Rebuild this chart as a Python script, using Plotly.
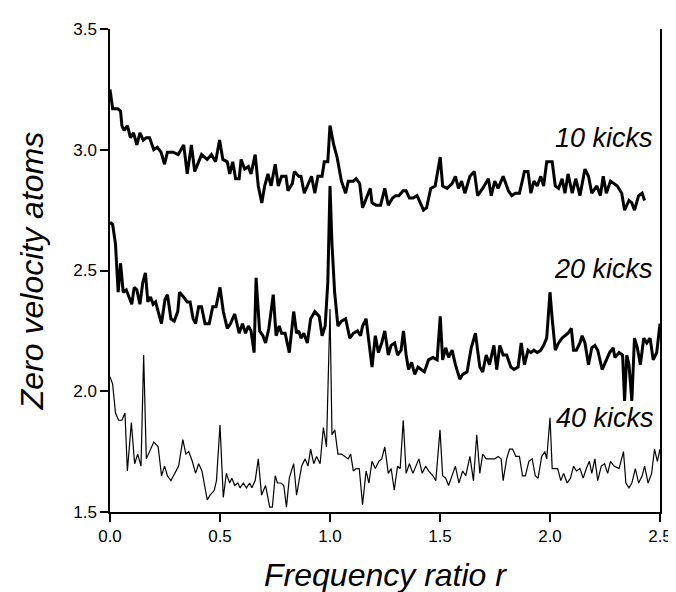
import plotly.graph_objects as go

# ---- data ----
r_10 = [0.000, 0.012, 0.035, 0.048, 0.054, 0.064, 0.079, 0.093, 0.107, 0.122, 0.136, 0.151, 0.165, 0.180, 0.199,
        0.215, 0.232, 0.248, 0.261, 0.287, 0.310, 0.335, 0.351, 0.370, 0.385, 0.416, 0.442, 0.461, 0.480, 0.498,
        0.513, 0.533, 0.544, 0.558, 0.571, 0.587, 0.596, 0.612, 0.629, 0.641, 0.660, 0.674, 0.690, 0.703, 0.718,
        0.732, 0.751, 0.765, 0.780, 0.800, 0.809, 0.829, 0.838, 0.858, 0.868, 0.883, 0.897, 0.916, 0.931, 0.945,
        0.964, 0.974, 0.990, 1.000, 1.017, 1.032, 1.052, 1.071, 1.083, 1.106, 1.119, 1.135, 1.148, 1.168, 1.183,
        1.191, 1.210, 1.230, 1.249, 1.265, 1.284, 1.299, 1.313, 1.332, 1.346, 1.361, 1.377, 1.396, 1.410, 1.425,
        1.439, 1.458, 1.478, 1.501, 1.512, 1.532, 1.555, 1.570, 1.584, 1.598, 1.613, 1.636, 1.656, 1.671, 1.694,
        1.720, 1.733, 1.749, 1.764, 1.787, 1.811, 1.826, 1.842, 1.861, 1.884, 1.900, 1.913, 1.927, 1.942, 1.958,
        1.971, 1.985, 2.010, 2.024, 2.039, 2.055, 2.068, 2.082, 2.101, 2.117, 2.136, 2.159, 2.175, 2.190, 2.213,
        2.229, 2.242, 2.256, 2.275, 2.291, 2.306, 2.326, 2.339, 2.359, 2.372, 2.384, 2.403, 2.419, 2.430]
kicks_10 = [3.25, 3.17, 3.17, 3.16, 3.10, 3.08, 3.10, 3.05, 3.07, 3.02, 3.07, 3.04, 3.05, 3.05, 3.00,
            3.01, 2.99, 2.94, 2.99, 2.99, 2.98, 3.02, 2.90, 3.02, 2.91, 2.98, 2.96, 2.98, 2.95, 3.04,
            2.96, 2.95, 2.90, 2.95, 2.88, 2.88, 2.96, 2.92, 2.93, 2.90, 2.98, 2.85, 2.78, 2.85, 2.90,
            2.85, 2.94, 2.85, 2.89, 2.89, 2.83, 2.86, 2.91, 2.89, 2.89, 2.82, 2.85, 2.89, 2.82, 2.89,
            2.89, 2.95, 2.95, 3.10, 3.02, 2.97, 2.87, 2.82, 2.87, 2.87, 2.88, 2.86, 2.76, 2.81, 2.84,
            2.78, 2.77, 2.77, 2.84, 2.77, 2.80, 2.81, 2.81, 2.83, 2.83, 2.80, 2.80, 2.81, 2.78, 2.75,
            2.76, 2.84, 2.85, 2.97, 2.85, 2.84, 2.86, 2.89, 2.84, 2.87, 2.82, 2.89, 2.91, 2.81, 2.84,
            2.88, 2.81, 2.87, 2.84, 2.89, 2.83, 2.81, 2.82, 2.82, 2.91, 2.91, 2.82, 2.87, 2.85, 2.89,
            2.85, 2.95, 2.95, 2.85, 2.84, 2.88, 2.82, 2.90, 2.82, 2.88, 2.81, 2.92, 2.89, 2.82, 2.85,
            2.81, 2.89, 2.82, 2.87, 2.86, 2.85, 2.82, 2.75, 2.79, 2.78, 2.75, 2.81, 2.82, 2.79]

r_20 = [0.000, 0.012, 0.025, 0.037, 0.048, 0.060, 0.074, 0.087, 0.099, 0.110, 0.122, 0.136, 0.149, 0.161, 0.172,
        0.184, 0.196, 0.207, 0.223, 0.234, 0.250, 0.261, 0.277, 0.292, 0.308, 0.316, 0.335, 0.351, 0.364, 0.378,
        0.389, 0.403, 0.416, 0.432, 0.451, 0.467, 0.482, 0.500, 0.515, 0.533, 0.548, 0.567, 0.587, 0.602, 0.616,
        0.629, 0.641, 0.655, 0.664, 0.680, 0.695, 0.707, 0.722, 0.742, 0.755, 0.769, 0.780, 0.796, 0.815, 0.835,
        0.848, 0.858, 0.868, 0.881, 0.897, 0.912, 0.931, 0.951, 0.964, 0.978, 0.990, 1.000, 1.009, 1.021, 1.036,
        1.052, 1.071, 1.090, 1.106, 1.125, 1.139, 1.148, 1.164, 1.177, 1.191, 1.206, 1.220, 1.235, 1.249, 1.265,
        1.278, 1.294, 1.307, 1.323, 1.334, 1.346, 1.357, 1.371, 1.385, 1.400, 1.416, 1.429, 1.448, 1.468, 1.487,
        1.501, 1.512, 1.526, 1.539, 1.555, 1.570, 1.590, 1.603, 1.623, 1.642, 1.661, 1.681, 1.694, 1.710, 1.725,
        1.745, 1.758, 1.772, 1.787, 1.803, 1.822, 1.836, 1.855, 1.869, 1.884, 1.900, 1.913, 1.927, 1.942, 1.958,
        1.971, 1.985, 2.000, 2.010, 2.024, 2.039, 2.055, 2.068, 2.082, 2.097, 2.107, 2.120, 2.136, 2.146, 2.159,
        2.175, 2.190, 2.204, 2.217, 2.237, 2.252, 2.271, 2.287, 2.295, 2.314, 2.330, 2.339, 2.349, 2.359, 2.372,
        2.384, 2.397, 2.411, 2.426, 2.440, 2.455, 2.469, 2.485, 2.500]
kicks_20 = [2.70, 2.69, 2.61, 2.41, 2.53, 2.41, 2.42, 2.39, 2.36, 2.43, 2.42, 2.36, 2.45, 2.49, 2.37,
            2.39, 2.36, 2.37, 2.32, 2.28, 2.38, 2.40, 2.30, 2.29, 2.33, 2.41, 2.39, 2.37, 2.37, 2.30,
            2.28, 2.35, 2.35, 2.28, 2.28, 2.35, 2.35, 2.43, 2.33, 2.26, 2.28, 2.32, 2.24, 2.28, 2.24,
            2.27, 2.25, 2.16, 2.47, 2.25, 2.23, 2.20, 2.26, 2.40, 2.23, 2.27, 2.24, 2.24, 2.16, 2.33,
            2.24, 2.25, 2.22, 2.24, 2.20, 2.30, 2.33, 2.31, 2.23, 2.27, 2.45, 2.85, 2.61, 2.41, 2.27,
            2.29, 2.30, 2.22, 2.24, 2.25, 2.23, 2.27, 2.30, 2.19, 2.10, 2.23, 2.16, 2.20, 2.25, 2.15,
            2.19, 2.20, 2.15, 2.17, 2.25, 2.15, 2.09, 2.12, 2.07, 2.10, 2.09, 2.08, 2.13, 2.14, 2.13,
            2.31, 2.13, 2.18, 2.14, 2.17, 2.11, 2.05, 2.07, 2.08, 2.18, 2.24, 2.10, 2.08, 2.15, 2.11,
            2.19, 2.09, 2.19, 2.15, 2.15, 2.10, 2.09, 2.10, 2.20, 2.11, 2.17, 2.16, 2.17, 2.16, 2.17,
            2.19, 2.22, 2.41, 2.30, 2.17, 2.20, 2.22, 2.23, 2.24, 2.26, 2.17, 2.17, 2.20, 2.23, 2.20,
            2.11, 2.18, 2.19, 2.17, 2.09, 2.12, 2.16, 2.18, 2.14, 2.16, 2.15, 1.96, 2.15, 2.11, 1.96,
            2.22, 2.18, 2.11, 2.22, 2.20, 2.22, 2.13, 2.16, 2.28]

r_40 = [0.000, 0.012, 0.025, 0.039, 0.054, 0.068, 0.079, 0.097, 0.112, 0.126, 0.141, 0.153, 0.165, 0.180, 0.199,
        0.219, 0.234, 0.248, 0.261, 0.277, 0.296, 0.312, 0.331, 0.345, 0.358, 0.374, 0.389, 0.403, 0.418, 0.442,
        0.455, 0.474, 0.484, 0.500, 0.515, 0.529, 0.544, 0.554, 0.567, 0.581, 0.591, 0.606, 0.620, 0.635, 0.645,
        0.660, 0.674, 0.689, 0.707, 0.726, 0.738, 0.751, 0.761, 0.777, 0.790, 0.802, 0.815, 0.835, 0.848, 0.858,
        0.871, 0.887, 0.900, 0.912, 0.926, 0.939, 0.955, 0.970, 0.984, 1.000, 1.009, 1.022, 1.036, 1.052, 1.067,
        1.083, 1.094, 1.106, 1.119, 1.133, 1.148, 1.164, 1.177, 1.191, 1.206, 1.222, 1.235, 1.249, 1.265, 1.278,
        1.292, 1.307, 1.319, 1.333, 1.346, 1.361, 1.377, 1.390, 1.404, 1.419, 1.435, 1.448, 1.468, 1.481, 1.500,
        1.512, 1.526, 1.539, 1.555, 1.570, 1.586, 1.603, 1.617, 1.636, 1.652, 1.667, 1.681, 1.694, 1.710, 1.729,
        1.749, 1.764, 1.778, 1.787, 1.803, 1.816, 1.830, 1.845, 1.861, 1.875, 1.888, 1.904, 1.919, 1.933, 1.946,
        1.962, 1.977, 1.985, 2.000, 2.010, 2.035, 2.049, 2.062, 2.078, 2.093, 2.107, 2.120, 2.136, 2.151, 2.165,
        2.179, 2.190, 2.204, 2.217, 2.233, 2.248, 2.262, 2.275, 2.291, 2.314, 2.334, 2.345, 2.359, 2.372, 2.388,
        2.403, 2.419, 2.430, 2.446, 2.462, 2.475, 2.488, 2.500]
kicks_40 = [2.06, 2.03, 1.91, 1.88, 1.88, 1.91, 1.67, 1.87, 1.70, 1.74, 1.69, 2.15, 1.72, 1.75, 1.79,
            1.77, 1.65, 1.69, 1.65, 1.63, 1.66, 1.69, 1.80, 1.74, 1.75, 1.71, 1.66, 1.70, 1.67, 1.55,
            1.57, 1.59, 1.63, 1.86, 1.56, 1.66, 1.62, 1.64, 1.61, 1.62, 1.60, 1.62, 1.60, 1.62, 1.60,
            1.63, 1.72, 1.57, 1.61, 1.52, 1.52, 1.65, 1.62, 1.62, 1.61, 1.52, 1.64, 1.70, 1.57, 1.62,
            1.69, 1.72, 1.69, 1.76, 1.70, 1.73, 1.70, 1.85, 1.77, 2.34, 1.82, 1.84, 1.74, 1.74, 1.73,
            1.72, 1.74, 1.67, 1.68, 1.68, 1.53, 1.67, 1.62, 1.71, 1.68, 1.71, 1.72, 1.77, 1.66, 1.68,
            1.59, 1.69, 1.68, 1.88, 1.66, 1.70, 1.66, 1.69, 1.72, 1.66, 1.69, 1.67, 1.65, 1.63, 1.84,
            1.65, 1.64, 1.61, 1.65, 1.69, 1.62, 1.67, 1.65, 1.73, 1.63, 1.82, 1.66, 1.74, 1.72, 1.72,
            1.72, 1.73, 1.72, 1.63, 1.72, 1.76, 1.76, 1.73, 1.73, 1.65, 1.65, 1.71, 1.72, 1.65, 1.64,
            1.73, 1.75, 1.72, 1.89, 1.68, 1.68, 1.63, 1.66, 1.62, 1.64, 1.69, 1.67, 1.68, 1.64, 1.68,
            1.71, 1.66, 1.72, 1.63, 1.69, 1.70, 1.66, 1.71, 1.69, 1.68, 1.75, 1.62, 1.60, 1.62, 1.68,
            1.62, 1.65, 1.69, 1.62, 1.66, 1.76, 1.71, 1.76]

labels = ["10 kicks", "20 kicks", "40 kicks"]
x_ticks = [0.0, 0.5, 1.0, 1.5, 2.0, 2.5]
y_ticks = [1.5, 2.0, 2.5, 3.0, 3.5]

FONT = "Liberation Sans, Arial, Helvetica, sans-serif"

fig = go.Figure()
fig.add_trace(go.Scatter(x=r_10, y=kicks_10, mode="lines", name=labels[0],
                         line=dict(color="black", width=3)))
fig.add_trace(go.Scatter(x=r_20, y=kicks_20, mode="lines", name=labels[1],
                         line=dict(color="black", width=3)))
fig.add_trace(go.Scatter(x=r_40, y=kicks_40, mode="lines", name=labels[2],
                         line=dict(color="black", width=1.2)))

ann_pos = [(2.475, 3.05, "right"), (2.475, 2.505, "right"), (2.48, 1.89, "right")]
for lab, (ax, ay, al) in zip(labels, ann_pos):
    fig.add_annotation(x=ax, y=ay, text=lab, showarrow=False, xanchor=al, yanchor="middle",
                       font=dict(family=FONT, size=27, color="black", style="italic"))

fig.update_layout(
    width=676, height=592,
    margin=dict(l=102, r=17, t=16, b=88),
    paper_bgcolor="white", plot_bgcolor="white",
    showlegend=False,
    font=dict(family=FONT, color="black"),
)
fig.update_xaxes(range=[0, 2.5], tickvals=x_ticks, ticktext=[f"{v:.1f}" for v in x_ticks],
                 showline=True, linecolor="black", linewidth=1.5, mirror=False,
                 ticks="outside", ticklen=8, tickwidth=1.5, tickcolor="black",
                 showgrid=False, zeroline=False, tickfont=dict(size=17),
                 title=dict(text="Frequency ratio r", standoff=18,
                            font=dict(size=32, family=FONT, style="italic")))
fig.update_yaxes(range=[1.5, 3.5], tickvals=y_ticks, ticktext=[f"{v:.1f}" for v in y_ticks],
                 showline=True, linecolor="black", linewidth=1.5, mirror=True,
                 ticks="outside", ticklen=8, tickwidth=1.5, tickcolor="black",
                 showgrid=False, zeroline=False, tickfont=dict(size=17),
                 title=dict(text="Zero velocity atoms", standoff=20,
                            font=dict(size=32, family=FONT, style="italic")))

fig.write_html("out.html")
